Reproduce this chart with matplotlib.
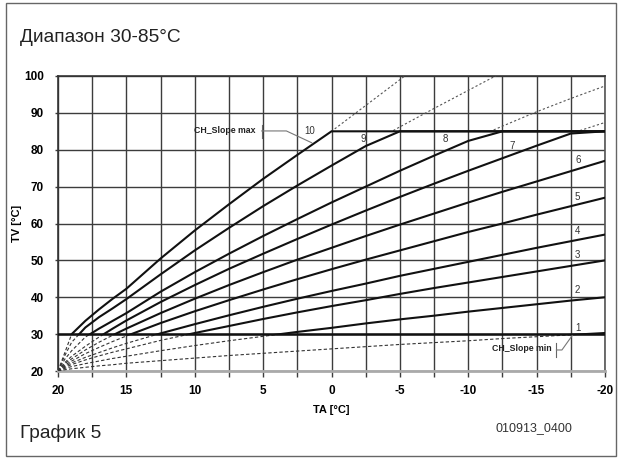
import matplotlib
matplotlib.use('Agg')
import matplotlib.pyplot as plt
from matplotlib.patches import Rectangle
from matplotlib.lines import Line2D
import numpy as np

plt.rcParams['font.family'] = ['Liberation Sans', 'DejaVu Sans']
plt.rcParams['axes.unicode_minus'] = False

# ---- data ----
ta = [20, 19.5, 19, 18, 17, 16, 15, 12.5, 10, 7.5, 5, 2.5, 0,
      -2.5, -5, -7.5, -10, -12.5, -15, -17.5, -20]

curve_10 = [20.0, 25.0, 30.0, 33.6, 36.7, 39.6, 42.3, 50.5, 58.1, 65.2, 72.1, 78.6, 85.0,
            92.0, 99.0, 106.0, 112.0, 118.0, 124.0, 130.0, 136.0]
curve_9 = [20.0, 24.2, 27.8, 31.8, 34.6, 37.0, 39.5, 46.2, 52.7, 58.8, 64.7, 70.3, 75.7,
           81.0, 86.2, 91.2, 96.1, 101.0, 105.7, 110.4, 115.0]
curve_8 = [20.0, 23.2, 25.5, 29.2, 31.5, 33.6, 35.7, 41.5, 46.8, 51.8, 56.6, 61.2, 65.7,
           70.0, 74.3, 78.4, 82.4, 86.4, 90.3, 93.9, 97.3]
curve_7 = [20.0, 22.3, 24.0, 26.7, 29.2, 31.5, 33.7, 38.7, 43.3, 47.7, 51.8, 55.8, 59.7,
           63.5, 67.2, 70.8, 74.3, 77.7, 81.1, 84.4, 87.4]
curve_6 = [20.0, 22.0, 23.3, 25.7, 27.8, 29.7, 31.5, 35.7, 39.6, 43.3, 46.8, 50.2, 53.4,
           56.6, 59.7, 62.7, 65.7, 68.6, 71.4, 74.2, 77.0]
curve_5 = [20.0, 21.6, 22.7, 24.7, 26.4, 28.0, 29.5, 33.0, 36.2, 39.2, 42.1, 44.9, 47.6,
           50.2, 52.7, 55.2, 57.7, 60.0, 62.4, 64.7, 67.0]
curve_4 = [20.0, 21.3, 22.2, 23.7, 25.0, 26.3, 27.5, 30.2, 32.7, 35.1, 37.4, 39.6, 41.7,
           43.7, 45.8, 47.7, 49.6, 51.5, 53.4, 55.2, 57.0]
curve_3 = [20.0, 21.0, 21.75, 23.0, 24.1, 25.1, 26.0, 28.3, 30.3, 32.2, 34.1, 35.9, 37.6,
           39.2, 40.9, 42.5, 44.0, 45.5, 47.0, 48.5, 50.0]
curve_2 = [20.0, 20.7, 21.2, 22.0, 22.7, 23.4, 24.0, 25.5, 26.9, 28.2, 29.4, 30.6, 31.7,
           32.9, 34.0, 35.0, 36.1, 37.1, 38.1, 39.1, 40.0]
curve_1 = [20.0, 20.35, 20.6, 21.0, 21.4, 21.7, 22.1, 22.8, 23.5, 24.2, 24.8, 25.4, 26.0,
           26.6, 27.2, 27.7, 28.2, 28.8, 29.3, 29.8, 30.3]

curves = [curve_1, curve_2, curve_3, curve_4, curve_5,
          curve_6, curve_7, curve_8, curve_9, curve_10]
curve_names = ['1', '2', '3', '4', '5', '6', '7', '8', '9', '10']

tv_min = 30
tv_max = 85

x_ticks = [20, 15, 10, 5, 0, -5, -10, -15, -20]
y_ticks = [20, 30, 40, 50, 60, 70, 80, 90, 100]

# label anchor positions (TA, TV)
label_pos = {'10': (1.6, 85.2), '9': (-2.3, 82.8), '8': (-8.3, 82.8), '7': (-13.2, 81.0),
             '6': (-18.05, 77.2), '5': (-18.0, 67.3), '4': (-18.0, 58.0),
             '3': (-18.0, 51.5), '2': (-18.0, 42.0), '1': (-18.05, 31.6)}

# ---- figure ----
fig = plt.figure(figsize=(6.19, 4.59), dpi=100)
ax = fig.add_axes([58 / 619, 1 - 371 / 459, 547 / 619, 295 / 459])
ax.set_xlim(20, -20)
ax.set_ylim(20, 100)

grid_c = '#3c3c3c'
ax.set_xticks(x_ticks)
ax.set_xticks(np.arange(-20, 20.1, 2.5), minor=True)
ax.set_yticks(y_ticks)
ax.grid(True, which='both', axis='x', color=grid_c, lw=1.0)
ax.grid(True, which='major', axis='y', color=grid_c, lw=1.0)
ax.tick_params(axis='x', which='both', length=4, color=grid_c, width=1.0, pad=6)
ax.tick_params(axis='y', which='both', length=2, color=grid_c, width=1.0, pad=8)
for lab in ax.get_xticklabels() + ax.get_yticklabels():
    lab.set_fontweight('bold')
    lab.set_fontsize(8.5)
ax.set_axisbelow(True)

for side, c in [('top', '#333333'), ('left', '#333333'), ('right', '#555555'), ('bottom', '#aaaaaa')]:
    ax.spines[side].set_color(c)
    ax.spines[side].set_linewidth(1.2 if side != 'bottom' else 2.0)

ax.set_xlabel('TA [°C]', fontsize=8, fontweight='bold')
ax.xaxis.set_label_coords(0.5, -0.115)
ax.set_ylabel('TV [°C]', fontsize=8, fontweight='bold')
ax.yaxis.set_label_coords(-0.065, 0.5)

for tv in curves:
    tv = np.array(tv)
    # dashed part below minimum
    ln, = ax.plot(ta, tv, color='#333333', lw=0.8, dashes=(3, 2), zorder=3)
    ln.set_clip_path(Rectangle((-20, 20), 40, tv_min - 20, transform=ax.transData))
    # dotted part above maximum
    ln, = ax.plot(ta, tv, color='#555555', lw=0.8, dashes=(2, 2), zorder=3)
    ln.set_clip_path(Rectangle((-20, tv_max), 40, 100 - tv_max, transform=ax.transData))
    # solid part, capped at maximum
    ln, = ax.plot(ta, np.minimum(tv, tv_max), color='#111111', lw=1.5, zorder=4,
                  solid_joinstyle='round')
    ln.set_clip_path(Rectangle((-20, tv_min), 40, 100 - tv_min, transform=ax.transData))

ax.axhline(tv_min, color='#111111', lw=1.8, zorder=4)

for name in curve_names:
    x, y = label_pos[name]
    ax.text(x, y, name, fontsize=7, color='#333333', ha='center', va='center', zorder=5)

# CH_Slope max annotation
ax.text(7.8, 85.1, 'CH_Slope max', fontsize=6.3, fontweight='bold', ha='center',
        va='center', color='#222222', zorder=5)
ax.add_line(Line2D([5.1, 5.1], [83.2, 86.8], color='#666666', lw=0.8, zorder=5))
ax.add_line(Line2D([5.1, 3.3, 1.45], [85.1, 85.1, 81.9], color='#777777', lw=0.8, zorder=5))

# CH_Slope min annotation
ax.text(-13.9, 26.2, 'CH_Slope min', fontsize=6.3, fontweight='bold', ha='center',
        va='center', color='#222222', zorder=5)
ax.add_line(Line2D([-16.45, -16.45], [23.9, 27.5], color='#666666', lw=0.8, zorder=5))
ax.add_line(Line2D([-16.45, -16.85, -17.6], [25.7, 25.7, 29.6], color='#777777', lw=0.8, zorder=5))

# texts around
fig.text(20 / 619, 1 - 38 / 459, 'Диапазон 30-85°C', fontsize=13.8, ha='left', va='center',
         color='#222222')
fig.text(20 / 619, 1 - 433 / 459, 'График 5', fontsize=13.8, ha='left', va='center',
         color='#222222')
fig.text(534 / 619, 1 - 428 / 459, '010913_0400', fontsize=9, ha='center', va='center',
         color='#333333')

# outer frame
fig.patches.append(Rectangle((6 / 619, 3 / 459), 610 / 619, 453 / 459, transform=fig.transFigure,
                             fill=False, edgecolor='#666666', lw=1.0))

fig.savefig('out.png', dpi=100)
